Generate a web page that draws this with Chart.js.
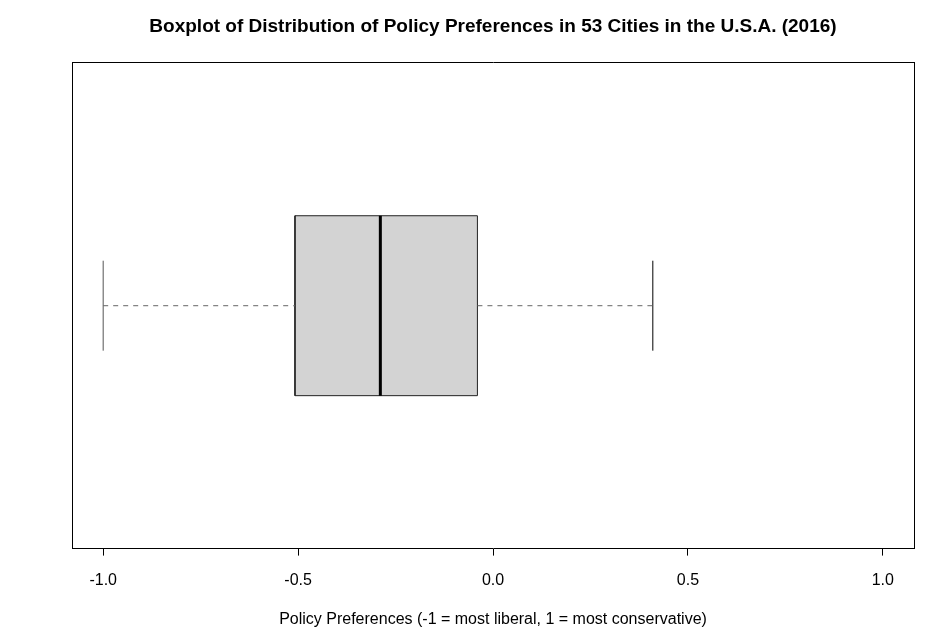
<!DOCTYPE html>
<html>
<head>
<meta charset="utf-8">
<script src="https://cdn.jsdelivr.net/npm/chart.js@4.4.1/dist/chart.umd.min.js"></script>
<style>
    html, body { margin: 0; padding: 0; background: #fff; }
    #wrap { width: 946px; height: 643px; }
</style>
</head>
<body>
<div id="wrap"><canvas id="boxChart"></canvas></div>
<script>
// five-number summary
const categories = ["Policy Preferences"];
const whiskerLow = [-1.0];
const quartile1 = [-0.508];
const medians = [-0.289];
const quartile3 = [-0.040];
const whiskerHigh = [0.410];

const tickValues = [-1.0, -0.5, 0.0, 0.5, 1.0];
const tickLabels = ["-1.0", "-0.5", "0.0", "0.5", "1.0"];

// layout of the single box on the index axis (centre at 1)
const BOX_HALF = 0.2;
const CAP_HALF = 0.1;
const FONT = "'Liberation Sans', Arial, Helvetica, sans-serif";

document.addEventListener("DOMContentLoaded", function () {

    loadChart();

});

function line(points, extra) {
    return Object.assign({
        data: points,
        showLine: true,
        pointRadius: 0,
        pointHoverRadius: 0,
        borderColor: "#000",
        borderWidth: 1,
        fill: false,
        order: 1
    }, extra || {});
}

function buildDatasets() {

    const sets = [];

    categories.forEach((name, i) => {

        const c = i + 1;

        // lower whisker
        sets.push(line([{ x: whiskerLow[i], y: c }, { x: quartile1[i], y: c }],
            { borderColor: "#666", borderDash: [5, 5] }));
        // upper whisker
        sets.push(line([{ x: quartile3[i], y: c }, { x: whiskerHigh[i], y: c }],
            { borderColor: "#666", borderDash: [5, 5] }));
        // staples
        sets.push(line([{ x: whiskerLow[i], y: c - CAP_HALF }, { x: whiskerLow[i], y: c + CAP_HALF }],
            { borderColor: "#555" }));
        sets.push(line([{ x: whiskerHigh[i], y: c - CAP_HALF }, { x: whiskerHigh[i], y: c + CAP_HALF }]));
        // box
        sets.push(line([
            { x: quartile1[i], y: c - BOX_HALF },
            { x: quartile3[i], y: c - BOX_HALF },
            { x: quartile3[i], y: c + BOX_HALF },
            { x: quartile1[i], y: c + BOX_HALF },
            { x: quartile1[i], y: c - BOX_HALF }
        ], { borderColor: "#222", backgroundColor: "#d3d3d3", fill: "shape", order: 2 }));
        // median, kept on top of the box
        sets.push(line([{ x: medians[i], y: c - BOX_HALF }, { x: medians[i], y: c + BOX_HALF }],
            { borderWidth: 3, order: 0 }));

    });

    return sets;
}

function loadChart() {

    const canvas = document.getElementById("boxChart");

    if (!canvas) return;

    const ctx = canvas.getContext("2d");

    const frame = {
        display: true,
        ticks: { display: false },
        grid: { display: false },
        border: { display: true, color: "#000", width: 1 }
    };

    new Chart(ctx, {

        type: "scatter",

        data: { datasets: buildDatasets() },

        options: {
            responsive: true,
            maintainAspectRatio: false,
            animation: false,
            devicePixelRatio: 1,
            layout: { padding: { top: 0, left: 64, right: 24, bottom: 14 } },
            plugins: {
                legend: { display: false },
                tooltip: { enabled: false },
                title: {
                    display: true,
                    text: "Boxplot of Distribution of Policy Preferences in 53 Cities in the U.S.A. (2016)",
                    color: "#000",
                    font: { family: FONT, size: 19, weight: "bold" },
                    padding: { top: 15, bottom: 17 }
                }
            },
            scales: {
                x: {
                    type: "linear",
                    position: "bottom",
                    min: -1.08,
                    max: 1.08,
                    afterBuildTicks: axis => {
                        axis.ticks = tickValues.map(v => ({ value: v }));
                    },
                    ticks: {
                        color: "#000",
                        padding: 15,
                        maxRotation: 0,
                        autoSkip: false,
                        font: { family: FONT, size: 16 },
                        callback: function (value) {
                            const k = tickValues.indexOf(value);
                            return k >= 0 ? tickLabels[k] : "";
                        }
                    },
                    grid: {
                        display: true,
                        drawOnChartArea: false,
                        drawTicks: true,
                        tickLength: 7,
                        color: "#000"
                    },
                    border: { display: true, color: "#000", width: 1 },
                    title: {
                        display: true,
                        text: "Policy Preferences (-1 = most liberal, 1 = most conservative)",
                        color: "#000",
                        font: { family: FONT, size: 16 },
                        padding: { top: 5, bottom: 0 }
                    }
                },
                x2: Object.assign({ type: "linear", position: "top", min: -1.08, max: 1.08 }, frame),
                y: Object.assign({ type: "linear", position: "left", min: 0.46, max: 1.54 }, frame),
                y2: Object.assign({ type: "linear", position: "right", min: 0.46, max: 1.54 }, frame)
            }
        }

    });

}
</script>
</body>
</html>
